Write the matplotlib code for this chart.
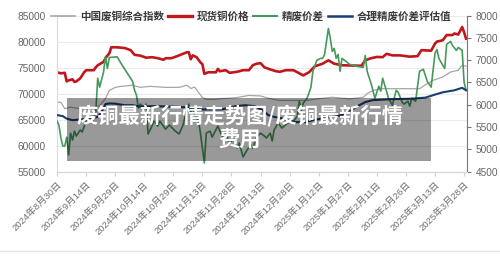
import matplotlib
matplotlib.use("Agg")
import matplotlib.pyplot as plt
from matplotlib.lines import Line2D
from matplotlib.patches import Rectangle
from matplotlib.font_manager import FontProperties

plt.rcParams['font.family'] = ['Liberation Sans', 'Noto Sans CJK SC', 'DejaVu Sans']

# 天数: 从 2024-08-30 开始
tick_days = list(range(0, 211, 15))
tick_labels = ["2024年8月30日", "2024年9月14日", "2024年9月29日", "2024年10月14日",
               "2024年10月29日", "2024年11月13日", "2024年11月28日", "2024年12月13日",
               "2024年12月28日", "2025年1月12日", "2025年1月27日", "2025年2月11日",
               "2025年2月26日", "2025年3月13日", "2025年3月28日"]

# 现货铜价格 (左轴)
red_days = [0, 2, 4, 5, 6, 8, 9, 10, 12, 14,
            15, 19, 20, 21, 24, 25, 27, 28, 31, 35,
            38, 40, 43, 46, 49, 52, 55, 56, 59, 62,
            67, 68, 69, 70, 72, 74, 75, 76, 78, 82,
            83, 84, 87, 89, 93, 96, 99, 101, 103, 105,
            107, 110, 113, 115, 118, 122, 125, 127, 130, 133,
            137, 140, 143, 147, 157, 159, 162, 165, 168, 170,
            173, 177, 182, 186, 188, 193, 195, 196, 199, 201,
            204, 205, 207, 209, 210, 211]
red_vals = [74100, 73900, 74000, 72350, 72550, 72750, 72250, 72350, 72950, 74100,
            74500, 74500, 75050, 75450, 76100, 76800, 77750, 78900, 78900, 78750,
            78350, 77450, 77300, 76900, 77000, 76800, 76500, 76800, 76800, 77200,
            77950, 77950, 76600, 77350, 77000, 76000, 75650, 73800, 74100, 74100,
            74750, 74300, 74500, 74000, 74200, 74500, 74500, 75450, 75750, 75850,
            75050, 74650, 74300, 74200, 74500, 74500, 73900, 73500, 74100, 75250,
            75750, 76400, 75750, 75450, 75350, 76400, 76800, 77050, 77000, 77650,
            77350, 77350, 77100, 77200, 78350, 78250, 79600, 80000, 80250, 81250,
            81250, 81550, 81350, 82800, 81800, 80550]

# 中国废铜综合指数 (左轴)
grey_days = [0, 2, 4, 7, 12, 17, 20, 22, 25, 27,
             30, 33, 39, 43, 48, 56, 63, 67, 69, 71,
             73, 75, 77, 81, 85, 92, 99, 105, 110, 115,
             122, 129, 134, 142, 151, 158, 160, 163, 167, 173,
             182, 187, 191, 194, 199, 203, 207, 209, 211]
grey_vals = [68350, 68350, 67100, 67400, 67100, 67100, 67400, 67700, 69050, 70600,
             71200, 71400, 71600, 71200, 71400, 71200, 71200, 71600, 71000, 71250,
             70250, 69250, 68900, 68900, 69050, 69200, 69650, 69550, 69000, 68700,
             68700, 68700, 69000, 69300, 69000, 69300, 70000, 70600, 70950, 70950,
             70950, 70950, 71900, 72550, 73200, 74150, 74500, 75450, 75250]

# 精废价差 (右轴)
green_days = [0, 1, 2, 3, 4, 5, 6, 7, 8, 9,
              10, 12, 13, 15, 17, 18, 20, 21, 22, 24,
              25, 26, 27, 31, 34, 39, 40, 41, 42, 43,
              45, 46, 47, 49, 50, 52, 53, 56, 58, 61,
              63, 65, 67, 68, 69, 70, 71, 73, 74, 76,
              77, 79, 80, 83, 84, 86, 87, 89, 91, 93,
              94, 96, 98, 100, 101, 103, 105, 107, 108, 110,
              111, 112, 114, 116, 119, 122, 124, 125, 126, 127,
              129, 131, 132, 134, 136, 137, 138, 139, 140, 141,
              142, 143, 144, 145, 146, 147, 149, 151, 155, 158,
              159, 160, 162, 164, 166, 167, 168, 170, 171, 173,
              175, 176, 178, 179, 181, 182, 183, 185, 187, 189,
              191, 193, 195, 196, 197, 199, 200, 201, 203, 204,
              206, 207, 209, 210, 211]
green_vals = [5635, 5545, 5255, 5075, 5075, 5275, 4875, 5365, 5210, 5410,
              5300, 5435, 5390, 5635, 5680, 5590, 5835, 6595, 6395, 6730,
              7085, 6815, 7060, 7075, 6860, 6525, 6325, 6215, 5925, 6015,
              5925, 6015, 5345, 5525, 5635, 5525, 5635, 5455, 5545, 5410,
              5345, 5545, 5900, 6015, 5815, 5945, 5770, 5635, 5365, 4695,
              5365, 5410, 5275, 5525, 5410, 5230, 5365, 5145, 5230, 5030,
              5145, 4830, 4985, 5100, 5030, 5275, 5365, 5300, 5255, 5365,
              5190, 5435, 5590, 5480, 5590, 5635, 5745, 6080, 5880, 6035,
              6145, 6395, 6750, 6995, 7040, 7040, 7120, 7420, 7710, 7485,
              7195, 7265, 7040, 7130, 6750, 7040, 6975, 6905, 6860, 6840,
              7105, 6750, 6480, 6145, 6415, 6305, 6595, 6305, 6145, 5990,
              6325, 6280, 6060, 6015, 6080, 5970, 6145, 6080, 6750, 6795,
              6525, 6395, 7150, 7240, 7040, 6885, 6815, 7355, 7420, 7330,
              7220, 7285, 7220, 6505, 6325]

# 合理精废价差评估值 (右轴)
blue_days = [0, 3, 5, 8, 14, 21, 23, 25, 27, 30,
             35, 39, 43, 50, 61, 68, 75, 85, 92, 97,
             102, 106, 109, 112, 116, 119, 123, 128, 132, 137,
             142, 147, 151, 155, 159, 163, 172, 182, 190, 194,
             199, 205, 209, 211]
blue_vals = [5770, 5745, 5690, 5655, 5680, 5725, 5835, 6015, 6030, 6025,
             5990, 5990, 5960, 5970, 5955, 5940, 5895, 5895, 5970, 5990,
             5970, 5880, 5770, 5730, 5695, 5655, 5610, 5610, 5655, 5695,
             5730, 5770, 5855, 5970, 6060, 6105, 6125, 6135, 6160, 6215,
             6280, 6325, 6380, 6325]

C_GREY = '#a6a6a6'
C_RED = '#c0161c'
C_GREEN = '#47995a'
C_BLUE = '#1c3d73'

fig = plt.figure(figsize=(5.0, 2.59), dpi=100)
ax = fig.add_axes([0.114, 0.337, 0.82, 0.603])
ax2 = ax.twinx()

ax.plot(grey_days, grey_vals, color=C_GREY, lw=0.9, zorder=3)
ax.plot(red_days, red_vals, color=C_RED, lw=1.9, zorder=4)
ax2.plot(green_days, green_vals, color=C_GREEN, lw=1.2, zorder=3)
ax2.plot(blue_days, blue_vals, color=C_BLUE, lw=1.5, zorder=4)

ax.set_xlim(0, 211.5)
ax.set_ylim(55000, 85000)
ax2.set_ylim(4500, 8000)

ax.set_yticks(range(55000, 85001, 5000))
ax2.set_yticks(range(4500, 8001, 500))
ax.yaxis.grid(True, color='#ebebeb', lw=0.8)
ax.set_axisbelow(True)

ax.set_xticks(tick_days)
ax.set_xticklabels(tick_labels, rotation=45, ha='right', rotation_mode='anchor')
ax.tick_params(axis='x', colors='#707070', labelsize=6.8, length=3, width=0.8, pad=3)
ax.tick_params(axis='x', color='#d0d0d0')
ax.tick_params(axis='y', labelcolor='#666666', labelsize=7.3, length=0, pad=8)
ax2.tick_params(axis='y', labelcolor='#666666', labelsize=7.3, length=3, width=0.8,
                color='#777777', pad=3)

for a in (ax, ax2):
    a.spines['top'].set_visible(False)
    a.spines['left'].set_color('#dddddd')
    a.spines['bottom'].set_color('#d6d6d6')
ax2.spines['right'].set_color('#777777')
ax.spines['right'].set_visible(False)

# 图例
handles = [Line2D([], [], color=C_GREY, lw=1.2),
           Line2D([], [], color=C_RED, lw=2.4),
           Line2D([], [], color=C_GREEN, lw=1.5),
           Line2D([], [], color=C_BLUE, lw=1.8)]
labels = ["中国废铜综合指数", "现货铜价格", "精废价差", "合理精废价差评估值"]
leg = fig.legend(handles, labels, loc='center', bbox_to_anchor=(0.502, 1 - 16 / 259),
                 ncol=4, frameon=False, handlelength=2.3, handletextpad=0.45,
                 columnspacing=0.35,
                 prop=FontProperties(family='Noto Sans CJK SC', weight='bold', size=7.6))
for t in leg.get_texts():
    t.set_color('#3a3a3a')

# 水印遮罩
fig.patches.append(Rectangle((67 / 500, 1 - 161 / 259), 364 / 500, 63 / 259,
                             transform=fig.transFigure, facecolor='black', alpha=0.4,
                             edgecolor='none', zorder=5))
fig.text(240 / 500, 1 - 127 / 259, "废铜最新行情走势图/废铜最新行情\n费用",
         ha='center', va='center', color='white', fontsize=15.3, fontweight='bold',
         linespacing=1.1, family=['Noto Sans CJK SC'], zorder=6)

# 外框
fig.add_artist(Line2D([0, 1], [1 - 251 / 259] * 2, color='#e4e4e4', lw=1,
                      transform=fig.transFigure))

fig.savefig("out.png", dpi=100)
